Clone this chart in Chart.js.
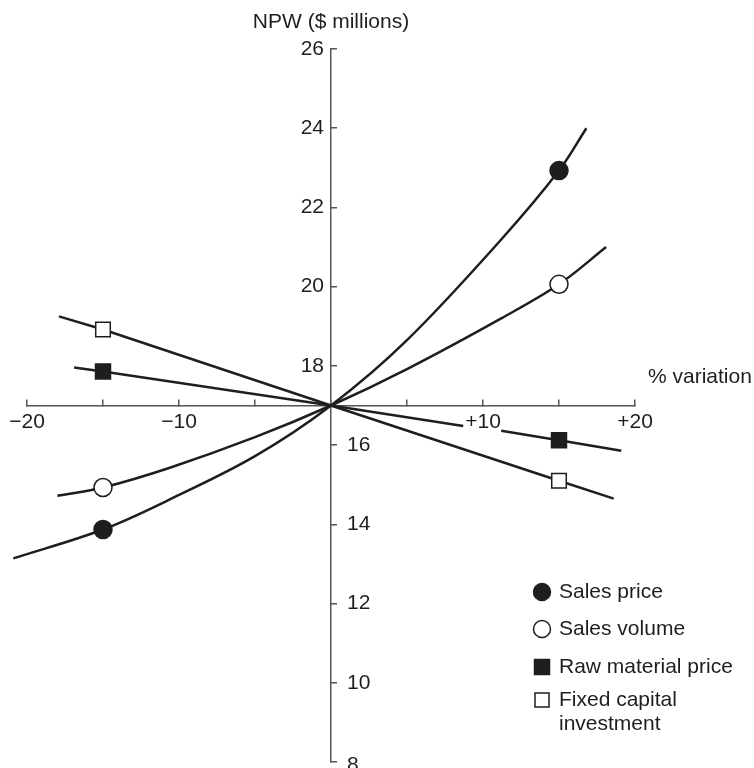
<!DOCTYPE html>
<html>
<head>
<meta charset="utf-8">
<script src="https://cdn.jsdelivr.net/npm/chart.js@4.4.1/dist/chart.umd.min.js"></script>
<style>
  html, body { margin: 0; padding: 0; background: #fff; }
</style>
</head>
<body>
<canvas id="chart" width="754" height="768"></canvas>
<script>
// values (% variation -> NPW in $ millions)
const salesPriceX = [-20.9, -15, -10.6, -5, 0, 5, 11.2, 15, 16.8];
const salesPriceY = [13.14, 13.87, 14.63, 15.72, 17, 18.65, 21.19, 22.93, 24.0];

const salesVolumeX = [-18, -15, -10.6, -5, 0, 5, 11.2, 15, 18.1];
const salesVolumeY = [14.72, 14.93, 15.43, 16.2, 17, 17.92, 19.2, 20.06, 21.0];

// gap in the line where the "+10" label sits
const rawMaterialX = [-16.9, -15, 0, 8.7, 9.9, 11.2, 15, 19.1];
const rawMaterialY = [17.96, 17.86, 17, 16.48, null, 16.36, 16.12, 15.86];

const fixedCapitalX = [-17.9, -15, 0, 15, 18.6];
const fixedCapitalY = [19.25, 18.92, 17, 15.1, 14.65];

const markerX = [-15, 15];

const seriesNames = ["Sales price", "Sales volume", "Raw material price", "Fixed capital investment"];
const legendLines = [["Sales price"], ["Sales volume"], ["Raw material price"], ["Fixed capital", "investment"]];

const xTickValues = [-20, -10, 10, 20];
const xTickLabels = ["\u221220", "\u221210", "+10", "+20"];
const yTickValues = [26, 24, 22, 20, 18, 16, 14, 12, 10, 8];

const yTitle = "NPW ($ millions)";
const xTitle = "% variation";

const ink = "#1e1e1e";
const axisColor = "#555555";
const font = "21px 'Liberation Sans', Arial, Helvetica, sans-serif";

function toPoints(xs, ys) {
  return xs.map(function (x, i) {
    return { x: x, y: ys[i] };
  });
}

function markerRadius(r) {
  return function (ctx) {
    return ctx.raw && markerX.indexOf(ctx.raw.x) >= 0 ? r : 0;
  };
}

function makeSet(label, xs, ys, style, fill, r, curved) {
  return {
    label: label,
    data: toPoints(xs, ys),
    borderColor: ink,
    borderWidth: 2.5,
    tension: curved ? 0.35 : 0,
    spanGaps: false,
    clip: false,
    pointStyle: style,
    pointRadius: markerRadius(r),
    pointHoverRadius: markerRadius(r),
    pointBackgroundColor: fill,
    pointBorderColor: ink,
    pointBorderWidth: 1.5,
  };
}

const datasets = [
  makeSet(seriesNames[0], salesPriceX, salesPriceY, "circle", ink, 9, true),
  makeSet(seriesNames[1], salesVolumeX, salesVolumeY, "circle", "#ffffff", 9, true),
  makeSet(seriesNames[2], rawMaterialX, rawMaterialY, "rect", ink, 10.6, false),
  makeSet(seriesNames[3], fixedCapitalX, fixedCapitalY, "rect", "#ffffff", 10.3, false),
];

// tick labels, axis titles and the key are placed by hand from the scales
const textPlugin = {
  id: "textPlugin",
  afterDraw(chart) {
    const ctx = chart.ctx;
    const xs = chart.scales.x;
    const ys = chart.scales.y;
    const x0 = xs.getPixelForValue(0);
    const y0 = ys.getPixelForValue(17);

    ctx.save();
    ctx.font = font;
    ctx.fillStyle = ink;
    ctx.textBaseline = "middle";

    yTickValues.forEach(function (v) {
      const py = ys.getPixelForValue(v);
      if (v > 17) {
        ctx.textAlign = "right";
        ctx.fillText(String(v), x0 - 7, py);
      } else {
        ctx.textAlign = "left";
        ctx.fillText(String(v), x0 + 16, py + (v === 8 ? 3 : 0));
      }
    });

    ctx.textAlign = "center";
    xTickValues.forEach(function (v, i) {
      ctx.fillText(xTickLabels[i], xs.getPixelForValue(v), y0 + 17);
    });

    ctx.fillText(yTitle, x0, 22);
    ctx.textAlign = "left";
    ctx.fillText(xTitle, xs.getPixelForValue(20) + 13, y0 - 28);

    // key
    const keyX = 542;
    const rows = [592, 629, 667, 700];
    chart.data.datasets.forEach(function (ds, i) {
      const cy = rows[i];
      ctx.lineWidth = 1.5;
      ctx.strokeStyle = ink;
      ctx.fillStyle = ds.pointBackgroundColor;
      ctx.beginPath();
      if (ds.pointStyle === "circle") {
        ctx.arc(keyX, cy, 8.5, 0, Math.PI * 2);
      } else {
        const s = i === 2 ? 7.5 : 7;
        ctx.rect(keyX - s, cy - s, s * 2, s * 2);
      }
      ctx.fill();
      ctx.stroke();
      ctx.fillStyle = ink;
      legendLines[i].forEach(function (line, j) {
        ctx.fillText(line, 559, cy + j * 24);
      });
    });
    ctx.restore();
  },
};

const axisGrid = {
  drawOnChartArea: false,
  drawTicks: true,
  tickLength: -7,
  color: axisColor,
  lineWidth: 1.5,
};

new Chart(document.getElementById("chart"), {
  type: "line",
  data: { datasets: datasets },
  options: {
    responsive: false,
    animation: false,
    events: [],
    layout: { padding: { left: 27, right: 119, top: 49, bottom: 6 } },
    plugins: {
      legend: { display: false },
      tooltip: { enabled: false },
    },
    scales: {
      x: {
        type: "linear",
        min: -20,
        max: 20,
        position: { y: 17 },
        ticks: { stepSize: 5, display: false },
        grid: axisGrid,
        border: { color: axisColor, width: 1.5 },
      },
      y: {
        type: "linear",
        min: 8,
        max: 26,
        position: { x: 0 },
        ticks: { stepSize: 2, display: false },
        grid: axisGrid,
        border: { color: axisColor, width: 1.5 },
      },
    },
  },
  plugins: [textPlugin],
});
</script>
</body>
</html>
